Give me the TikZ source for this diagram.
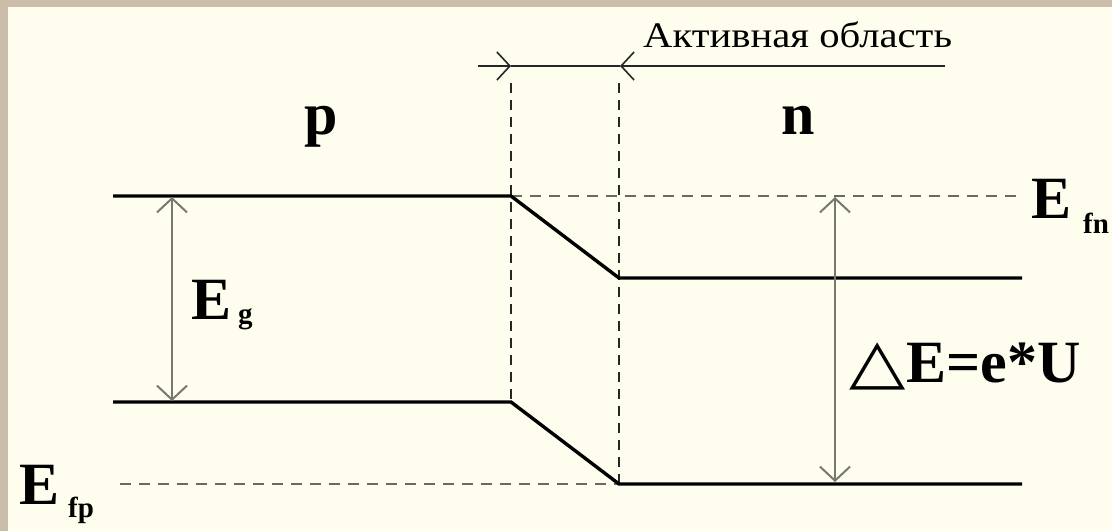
\documentclass[tikz,border=0pt]{standalone}
\usepackage{fontspec}
\setmainfont{Liberation Serif}
\newfontfamily\dejavu{DejaVu Sans}
\usetikzlibrary{arrows.meta}
\definecolor{paper}{RGB}{255,254,238}
\definecolor{frame}{RGB}{203,189,170}
\definecolor{arrowgray}{RGB}{120,120,112}
\definecolor{dashgray}{RGB}{105,105,98}
\tikzset{
  band/.style={line width=3.4pt, black, line join=miter},
  hdash/.style={line width=2pt, dashgray, dash pattern=on 11pt off 8pt},
  vdash/.style={line width=1.6pt, black!85, dash pattern=on 10pt off 7pt},
  gap/.style={line width=2pt, arrowgray, {Straight Barb[length=14pt,width=30pt]}-{Straight Barb[length=14pt,width=30pt]}},
  dimline/.style={line width=1.6pt, black!85},
  dimtip/.style={line width=1.6pt, black!85, -{Straight Barb[length=13pt,width=28pt]}},
  big/.style={font=\fontsize{60}{60}\selectfont\bfseries, inner sep=0pt, anchor=base west},
  sub/.style={font=\fontsize{29}{29}\selectfont\bfseries, inner sep=0pt, anchor=base west},
  lbl/.style={font=\fontsize{36}{36}\selectfont, inner sep=0pt, anchor=base west, xscale=1.13}
}
\begin{document}
\begin{tikzpicture}[x=1pt,y=-1pt]
\fill[frame] (0,0) rectangle (1112,531);
\fill[paper] (8,7) rectangle (1112,531);
\useasboundingbox (0,0) rectangle (1112,531);

% coordinates
\coordinate (c1L) at (113,196);
\coordinate (c1K) at (511,196);
\coordinate (c1N) at (619,278);
\coordinate (c1R) at (1022,278);
\coordinate (v1L) at (113,402);
\coordinate (v1K) at (511,402);
\coordinate (v1N) at (619,484);
\coordinate (v1R) at (1022,484);
\coordinate (efnR) at (1018,196);
\coordinate (efpL) at (120,484);
\coordinate (vd1T) at (511,83);
\coordinate (vd2T) at (619,83);
\coordinate (dL) at (478,66);
\coordinate (dA) at (511,66);
\coordinate (dB) at (620,66);
\coordinate (dR) at (945,66);
\coordinate (egT) at (172,197);
\coordinate (egB) at (172,401);
\coordinate (deT) at (835,197);
\coordinate (deB) at (835,482);

% dashed lines
\draw[hdash] (c1K) -- (efnR);
\draw[hdash] (efpL) -- (v1N);
\draw[vdash] (vd1T) -- (v1K);
\draw[vdash] (vd2T) -- (v1N);

% bands
\draw[band] (c1L) -- (c1K) -- (c1N) -- (c1R);
\draw[band] (v1L) -- (v1K) -- (v1N) -- (v1R);

% active region dimension
\draw[dimtip] (dL) -- (dA);
\draw[dimline] (dA) -- (dB);
\draw[dimtip] (dR) -- (dB);
\node[lbl] (act) at (643,47) {Активная область};

% gap arrows
\draw[gap] (egT) -- (egB);
\draw[gap] (deT) -- (deB);

% labels
\node[big] (lp) at (304,134) {p};
\node[big] (ln) at (781,134) {n};
\node[big] (Eg) at (191,319) {E};
\node[sub] (Egs) at (238,323) {g};
\node[big] (Efn) at (1031,218) {E};
\node[sub] (Efns) at (1083,233) {fn};
\node[big] (Efp) at (19,504) {E};
\node[sub] (Efps) at (68,517) {fp};
\node[big] (dE) at (849,382) {{\dejavu\bfseries\scalebox{1.22}[1.03]{△}}\kern1pt E=e*U};
\end{tikzpicture}
\end{document}
